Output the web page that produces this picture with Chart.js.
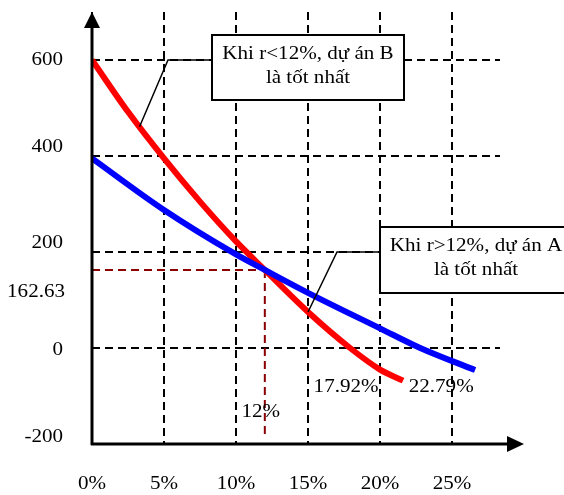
<!DOCTYPE html>
<html>
<head>
<meta charset="utf-8">
<script src="https://cdn.jsdelivr.net/npm/chart.js@4.4.1/dist/chart.umd.min.js"></script>
<style>
  html, body { margin: 0; padding: 0; background: #fff; }
  canvas { display: block; }
</style>
</head>
<body>
<canvas id="npv" width="564" height="495"></canvas>
<script>
// NPV profiles of two projects against the discount rate (%)
const ratesB = [0, 2.5, 5, 7.5, 10, 12, 15, 17.92, 20, 21.6];
const npvB   = [600, 492, 395, 305, 222, 162.63, 75, 0, -45, -68];
const ratesA = [0, 5, 10, 12, 15, 20, 22.79, 26.6];
const npvA   = [395, 287.5, 195, 162.63, 115, 41, 0, -46];

const xTicks      = [0, 5, 10, 15, 20, 25];
const xTickLabels = ['0%', '5%', '10%', '15%', '20%', '25%'];
const yTicks      = [-200, 0, 200, 400, 600];
const yTickLabels = ['-200', '0', '200', '400', '600'];

const crossRate = 12;      // Fisher intersection
const crossNpv  = 162.63;
const irrB = 17.92;
const irrA = 22.79;

const noteB = ['Khi r<12%, dự án B', 'là tốt nhất'];
const noteA = ['Khi r>12%, dự án A', 'là tốt nhất'];

const FONT = '18px "Liberation Serif", "Times New Roman", serif';
const STRETCH = 1.17;

const toPoints = (xs, ys) => xs.map((x, i) => ({ x, y: ys[i] }));

function interp(xs, ys, x) {
    for (let i = 1; i < xs.length; i++) {
        if (x <= xs[i]) {
            const t = (x - xs[i - 1]) / (xs[i] - xs[i - 1]);
            return ys[i - 1] + t * (ys[i] - ys[i - 1]);
        }
    }
    return ys[ys.length - 1];
}

// text is a bit wide in this style, so widen it through a horizontal scale
function text(ctx, str, x, y, align = 'center') {
    ctx.save();
    ctx.font = FONT;
    ctx.fillStyle = '#000';
    ctx.textBaseline = 'middle';
    ctx.textAlign = align;
    ctx.translate(x, y);
    ctx.scale(STRETCH, 1);
    ctx.fillText(str, 0, 0);
    ctx.restore();
}

function dashed(ctx, color, pts) {
    ctx.save();
    ctx.strokeStyle = color;
    ctx.lineWidth = 2;
    ctx.setLineDash([8, 5]);
    ctx.beginPath();
    ctx.moveTo(pts[0][0], pts[0][1]);
    pts.slice(1).forEach(p => ctx.lineTo(p[0], p[1]));
    ctx.stroke();
    ctx.restore();
}

function noteBox(ctx, lines, x, y, w, h) {
    ctx.save();
    ctx.fillStyle = '#fff';
    ctx.fillRect(x, y, w, h);
    ctx.strokeStyle = '#000';
    ctx.lineWidth = 2;
    ctx.strokeRect(x, y, w, h);
    ctx.restore();
    const cx = x + w / 2;
    text(ctx, lines[0], cx, y + 19);
    text(ctx, lines[1], cx, y + 43);
}

function leader(ctx, pts) {
    ctx.save();
    ctx.strokeStyle = '#000';
    ctx.lineWidth = 1.5;
    ctx.beginPath();
    ctx.moveTo(pts[0][0], pts[0][1]);
    pts.slice(1).forEach(p => ctx.lineTo(p[0], p[1]));
    ctx.stroke();
    ctx.restore();
}

const annotations = {
    id: 'annotations',
    beforeDatasetsDraw(chart) {
        const { ctx, scales: { x, y } } = chart;
        const px = x.getPixelForValue(crossRate);
        const py = y.getPixelForValue(crossNpv);
        dashed(ctx, '#8b0000', [[x.getPixelForValue(0), py], [px, py]]);
        dashed(ctx, '#8b0000', [[px, py], [px, y.getPixelForValue(-200) - 7]]);
    },
    afterDatasetsDraw(chart) {
        const { ctx, scales: { x, y } } = chart;
        const x0 = x.getPixelForValue(0);
        const yb = y.getPixelForValue(-200);

        // axes with arrow heads
        ctx.save();
        ctx.strokeStyle = '#000';
        ctx.fillStyle = '#000';
        ctx.lineWidth = 3;
        ctx.beginPath();
        ctx.moveTo(x0, yb + 1);
        ctx.lineTo(x0, 26);
        ctx.moveTo(x0 - 1, yb);
        ctx.lineTo(510, yb);
        ctx.stroke();
        ctx.beginPath();
        ctx.moveTo(x0, 12);
        ctx.lineTo(x0 - 8, 28);
        ctx.lineTo(x0 + 8, 28);
        ctx.closePath();
        ctx.fill();
        ctx.beginPath();
        ctx.moveTo(524, yb);
        ctx.lineTo(507, yb - 8);
        ctx.lineTo(507, yb + 8);
        ctx.closePath();
        ctx.fill();
        ctx.restore();

        // callouts
        const y600 = y.getPixelForValue(600);
        const y200 = y.getPixelForValue(200);
        leader(ctx, [[212, y600], [168, y600],
            [x.getPixelForValue(3.3), y.getPixelForValue(interp(ratesB, npvB, 3.3))]]);
        leader(ctx, [[380, y200], [337, y200],
            [x.getPixelForValue(15), y.getPixelForValue(interp(ratesB, npvB, 15))]]);
        noteBox(ctx, noteB, 212, 35, 192, 65);
        noteBox(ctx, noteA, 380, 227, 192, 66);

        // axis labels
        xTicks.forEach((v, i) => text(ctx, xTickLabels[i], x.getPixelForValue(v), 484));
        const nudge = { '-200': -7, '0': 2, '200': -9, '400': -9, '600': 0 };
        yTicks.forEach((v, i) => text(ctx, yTickLabels[i], 63, y.getPixelForValue(v) + nudge[v], 'right'));
        text(ctx, String(crossNpv), 65, y.getPixelForValue(crossNpv) + 22, 'right');
        text(ctx, crossRate + '%', x.getPixelForValue(crossRate) - 4, 412);
        text(ctx, irrB + '%', x.getPixelForValue(irrB) - 4, 387);
        text(ctx, irrA + '%', x.getPixelForValue(irrA) + 21, 387);
    },
};

const gridStyle = {
    grid:   { color: '#000', lineWidth: 2, drawTicks: false },
    border: { display: false, dash: [8, 5] },
    ticks:  { display: false },
};

new Chart(document.getElementById('npv'), {
    type: 'line',
    data: {
        datasets: [
            {
                label:       'A',
                data:        toPoints(ratesA, npvA),
                borderColor: '#0000ff',
                borderWidth: 6,
                pointRadius: 0,
                cubicInterpolationMode: 'monotone',
            },
            {
                label:       'B',
                data:        toPoints(ratesB, npvB),
                borderColor: '#ff0000',
                borderWidth: 6,
                pointRadius: 0,
                cubicInterpolationMode: 'monotone',
            },
        ],
    },
    options: {
        responsive: false,
        animation:  false,
        devicePixelRatio: 1,
        layout: { padding: { left: 92, right: 64, top: 12, bottom: 51 } },
        plugins: { legend: { display: false }, tooltip: { enabled: false } },
        scales: {
            x: {
                type: 'linear',
                min: 0,
                max: 28.33,
                afterBuildTicks: s => { s.ticks = xTicks.map(value => ({ value })); },
                ...gridStyle,
            },
            y: {
                type: 'linear',
                min: -200,
                max: 700,
                afterBuildTicks: s => { s.ticks = yTicks.map(value => ({ value })); },
                ...gridStyle,
            },
        },
    },
    plugins: [annotations],
});
</script>
</body>
</html>
